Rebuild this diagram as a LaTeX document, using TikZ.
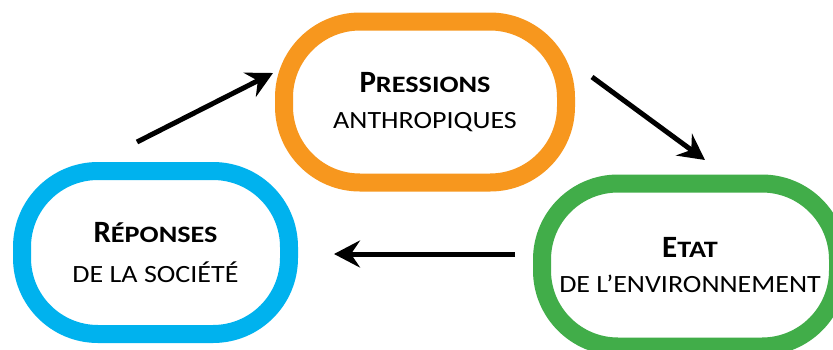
\documentclass[tikz,border=0pt]{standalone}
\usepackage{fontspec}
\setmainfont{Carlito}
\newfontfamily\scfont[FakeStretch=1.13]{Carlito}
\newfontfamily\scbfont[FakeStretch=1.2]{Carlito}
\usetikzlibrary{arrows.meta}
\definecolor{corange}{HTML}{F7971E}
\definecolor{cblue}{HTML}{00B2EE}
\definecolor{cgreen}{HTML}{41AD49}
\newcommand{\mybigcap}[1]{{\fontsize{31}{31}\selectfont\bfseries #1}}
\newcommand{\mysmcapb}[1]{{\scbfont\fontsize{23.5}{23.5}\selectfont\bfseries #1}}
\newcommand{\mysmcap}[1]{{\scfont\fontsize{24.8}{24.8}\selectfont #1}}
\tikzset{
  cyclebox/.style={draw, line width=18pt, rounded corners=76pt, fill=white,
    align=center, inner sep=0pt, text=black},
  cyclearrow/.style={line width=5pt, -{Stealth[length=26pt, width=27pt, inset=9pt]}}
}
\begin{document}
\begin{tikzpicture}[x=1pt, y=-1pt]
\useasboundingbox (0,0) rectangle (833,349);
\clip (0,0) rectangle (833,349);
\fill[white] (0,0) rectangle (833,349);
\node[cyclebox, draw=corange, minimum width=282pt, minimum height=161pt] (press) at (425,102)
  {\mybigcap{P}\mysmcapb{RESSIONS}\\[19pt]\mysmcap{ANTHROPIQUES}};
\node[cyclebox, draw=cblue, minimum width=267pt, minimum height=163pt] (rep) at (155.5,252.5)
  {\mybigcap{R}\mysmcapb{ÉPONSES}\\[19pt]\mysmcap{DE LA SOCIÉTÉ}};
\node[cyclebox, draw=cgreen, minimum width=296pt, minimum height=163pt] (etat) at (690,265)
  {\mybigcap{E}\mysmcapb{TAT}\\[17pt]\mysmcap{DE L’ENVIRONNEMENT}};
\coordinate (a1s) at (137,142);
\coordinate (a1e) at (273,73);
\coordinate (a2s) at (592,77);
\coordinate (a2e) at (705,160);
\coordinate (a3s) at (515,254);
\coordinate (a3e) at (334,254);
\draw[cyclearrow] (a1s) -- (a1e);
\draw[cyclearrow] (a2s) -- (a2e);
\draw[cyclearrow] (a3s) -- (a3e);
\end{tikzpicture}
\end{document}
